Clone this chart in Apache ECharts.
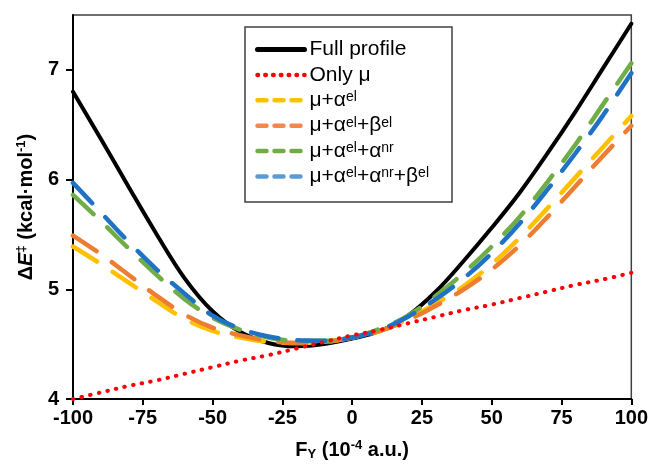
<!DOCTYPE html>
<html>
<head>
<meta charset="utf-8">
<script src="https://cdn.jsdelivr.net/npm/echarts@6/dist/echarts.min.js"></script>
<style>
html,body{margin:0;padding:0;background:#fff;}
#chart{width:651px;height:466px;}
</style>
</head>
<body>
<div id="chart"></div>
<script>
// ---- data ----
const fieldY = [-100,-90,-80,-70,-60,-50,-40,-30,-20,-10,0,10,20,30,40,50,60,70,80,90,100];
const fullProfile = [6.80,6.37,5.93,5.50,5.10,4.80,4.61,4.51,4.48,4.50,4.55,4.62,4.76,4.98,5.26,5.56,5.88,6.24,6.62,7.02,7.42];
const onlyMu      = [4.00,4.06,4.12,4.17,4.23,4.29,4.35,4.40,4.46,4.52,4.58,4.63,4.69,4.75,4.81,4.86,4.92,4.98,5.04,5.09,5.15];
const muAel       = [5.39,5.23,5.06,4.89,4.73,4.62,4.56,4.52,4.51,4.52,4.56,4.62,4.73,4.87,5.03,5.23,5.47,5.74,6.02,6.30,6.58];
const muAelBel    = [5.49,5.32,5.13,4.94,4.77,4.65,4.58,4.53,4.51,4.52,4.56,4.62,4.72,4.85,5.00,5.18,5.40,5.66,5.94,6.22,6.49];
const muAelAnr    = [5.86,5.62,5.37,5.13,4.91,4.74,4.63,4.56,4.53,4.53,4.56,4.64,4.76,4.94,5.15,5.39,5.66,5.98,6.32,6.69,7.06];
const muAelAnrBel = [5.97,5.70,5.43,5.18,4.96,4.76,4.64,4.57,4.535,4.53,4.56,4.63,4.75,4.91,5.10,5.33,5.60,5.91,6.24,6.59,6.97];
const xTicks = [-100,-75,-50,-25,0,25,50,75,100];
const yTicks = [4,5,6,7];
const seriesNames = ['Full profile','Only μ','μ+αel','μ+αel+βel','μ+αel+αnr','μ+αel+αnr+βel'];
const legendRich = {
  'Full profile': '{t|Full profile}',
  'Only μ': '{t|Only μ}',
  'μ+αel': '{t|μ+α}{s|el}',
  'μ+αel+βel': '{t|μ+α}{s|el}{t|+β}{s|el}',
  'μ+αel+αnr': '{t|μ+α}{s|el}{t|+α}{s|nr}',
  'μ+αel+αnr+βel': '{t|μ+α}{s|el}{t|+α}{s|nr}{t|+β}{s|el}'
};

const FONT = 'Liberation Sans, Arial, sans-serif';
const colors = ['#000000','#FF0000','#FFC000','#ED7D31','#70AD47','#1F72C4'];
const dataSets = [fullProfile, onlyMu, muAel, muAelBel, muAelAnr, muAelAnrBel];
const lineTypes = ['solid',[0.5,8.3],[28,19],[28,19],[28,19],[28,19]];
const widths = [4,4,4.5,4.5,4.5,4.5];
const zs = [2,7,3,4,5,6];

const series = seriesNames.map((n,i)=>({
  name:n, type:'line', smooth:0.35, symbol:'none', z:zs[i],
  data: fieldY.map((x,k)=>[x, dataSets[i][k]]),
  lineStyle:{color:colors[i], width:widths[i], type:lineTypes[i], cap:'round'},
  itemStyle:{color:colors[i]}
}));

const legendIcons = [
  {type:'solid', width:5, color:'#000'},
  {type:[0.5,7.3], width:4.5, color:'#FF0000'},
  {type:[9,8], width:4.5, color:'#FFC000'},
  {type:[9,8], width:4.5, color:'#F4874B'},
  {type:[9,8], width:4.5, color:'#70AD47'},
  {type:[9,8], width:4.5, color:'#5B9BD5'}
];

const chart = echarts.init(document.getElementById('chart'), null, {renderer:'canvas'});
chart.setOption({
  animation:false,
  backgroundColor:'#fff',
  grid:{left:73, right:16, top:15, bottom:64, show:true, borderColor:'#404040', borderWidth:1.5},
  xAxis:{
    type:'value', min:-100, max:100, interval:25,
    name:'{b|F}{sub|Y}{b| (10}{sup|-4}{b| a.u.)}',
    nameLocation:'middle', nameGap:40,
    nameTextStyle:{rich:{
      b:{fontFamily:FONT, fontWeight:'bold', fontSize:20, color:'#000', lineHeight:22},
      sub:{fontFamily:FONT, fontWeight:'bold', fontSize:13, color:'#000', lineHeight:13, verticalAlign:'bottom'},
      sup:{fontFamily:FONT, fontWeight:'bold', fontSize:13, color:'#000', lineHeight:13, verticalAlign:'top'}
    }},
    axisLine:{onZero:false, lineStyle:{color:'#000', width:2}},
    axisTick:{show:true, inside:false, length:6, lineStyle:{color:'#000', width:2}},
    axisLabel:{fontFamily:FONT, fontWeight:'bold', fontSize:20, color:'#000', margin:9,
      customValues: xTicks},
    splitLine:{show:false}
  },
  yAxis:{
    type:'value', min:4, max:7.5, interval:1,
    name:'{b|Δ}{i|E}{sup|‡}{b| (kcal·mol}{sup|-1}{b|)}',
    nameLocation:'middle', nameGap:36, nameRotate:90,
    nameTextStyle:{rich:{
      b:{fontFamily:FONT, fontWeight:'bold', fontSize:20, color:'#000', lineHeight:22},
      i:{fontFamily:FONT, fontWeight:'bold', fontStyle:'italic', fontSize:20, color:'#000', lineHeight:22},
      sup:{fontFamily:FONT, fontWeight:'bold', fontSize:13, color:'#000', lineHeight:13, verticalAlign:'top'}
    }},
    axisLine:{show:true, onZero:false, lineStyle:{color:'#000', width:2}},
    axisTick:{show:true, inside:false, length:7, lineStyle:{color:'#000', width:2},
      customValues: yTicks},
    axisLabel:{fontFamily:FONT, fontWeight:'bold', fontSize:20, color:'#000', margin:14,
      customValues: yTicks},
    splitLine:{show:false}
  },
  legend:{
    orient:'vertical', left:245, top:27,
    padding:[12,23,15,10], itemGap:4.4, itemWidth:47, itemHeight:14,
    backgroundColor:'#fff', borderColor:'#404040', borderWidth:1.5, borderRadius:0,
    itemStyle:{opacity:0},
    data: seriesNames.map((n,i)=>({name:n, itemStyle:{opacity:0},
      lineStyle:{type:legendIcons[i].type, width:legendIcons[i].width, color:legendIcons[i].color, cap:'round', opacity:1}})),
    formatter: n => legendRich[n],
    textStyle:{rich:{
      t:{fontFamily:FONT, fontSize:21, color:'#000', lineHeight:20},
      s:{fontFamily:FONT, fontSize:14, color:'#000', lineHeight:12, verticalAlign:'top'}
    }}
  },
  series: series
});
</script>
</body>
</html>
